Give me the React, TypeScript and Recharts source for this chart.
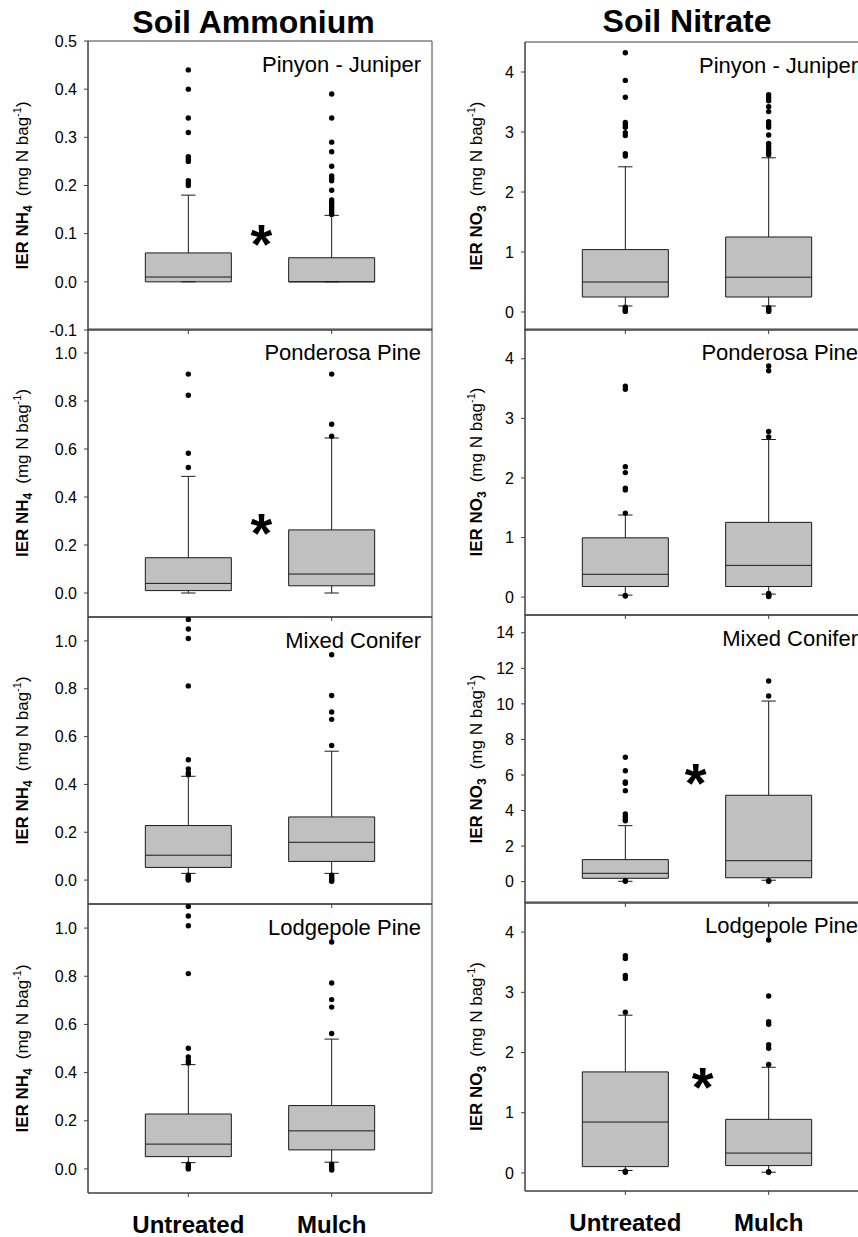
import React from "react";
import { ComposedChart, Scatter, XAxis, YAxis, ReferenceArea, ReferenceLine } from "recharts";

const groups = ["Untreated", "Mulch"];
const sites = ["Pinyon - Juniper", "Ponderosa Pine", "Mixed Conifer", "Lodgepole Pine"];
const titles = ["Soil Ammonium", "Soil Nitrate"];

// y ticks
const nh4TicksPJ = [-0.1, 0, 0.1, 0.2, 0.3, 0.4, 0.5];
const nh4Ticks = [0, 0.2, 0.4, 0.6, 0.8, 1.0];
const no3Ticks = [0, 1, 2, 3, 4];
const no3TicksMC = [0, 2, 4, 6, 8, 10, 12, 14];

// box stats: [lower whisker, Q1, median, Q3, upper whisker]
const nh4PJUntreated = [0, 0, 0.01, 0.06, 0.18];
const nh4PJMulch = [0, 0, 0, 0.05, 0.138];
const nh4PPUntreated = [0, 0.01, 0.04, 0.147, 0.486];
const nh4PPMulch = [0, 0.03, 0.079, 0.263, 0.646];
const nh4MCUntreated = [0.028, 0.053, 0.104, 0.228, 0.434];
const nh4MCMulch = [0.028, 0.078, 0.158, 0.264, 0.539];
const nh4LPUntreated = [0.026, 0.051, 0.103, 0.228, 0.433];
const nh4LPMulch = [0.028, 0.079, 0.158, 0.263, 0.539];

const no3PJUntreated = [0.1, 0.25, 0.5, 1.04, 2.42];
const no3PJMulch = [0.1, 0.25, 0.58, 1.25, 2.57];
const no3PPUntreated = [0.033, 0.178, 0.383, 0.995, 1.378];
const no3PPMulch = [0.05, 0.178, 0.533, 1.255, 2.645];
const no3MCUntreated = [0.02, 0.19, 0.47, 1.24, 3.15];
const no3MCMulch = [0.08, 0.22, 1.18, 4.86, 10.16];
const no3LPUntreated = [0.04, 0.105, 0.845, 1.678, 2.62];
const no3LPMulch = [0.012, 0.122, 0.33, 0.89, 1.755];

// outliers
const nh4PJUntreatedOut = [0.44, 0.4, 0.34, 0.31, 0.26, 0.255, 0.25, 0.21, 0.205, 0.2];
const nh4PJMulchOut = [0.39, 0.34, 0.29, 0.27, 0.24, 0.22, 0.215, 0.21, 0.19, 0.17, 0.165, 0.16, 0.155, 0.15, 0.145, 0.14];
const nh4PPUntreatedOut = [0.912, 0.824, 0.582, 0.523];
const nh4PPMulchOut = [0.912, 0.703, 0.653];
const nh4MCUntreatedOut = [1.09, 1.05, 1.01, 0.812, 0.503, 0.465, 0.449, 0.44, 0.02, 0.015, 0.01, 0.005, 0];
const nh4MCMulchOut = [0.942, 0.772, 0.703, 0.672, 0.5625, 0.02, 0.01, 0.005, 0, -0.005];
const nh4LPUntreatedOut = [1.09, 1.05, 1.01, 0.811, 0.501, 0.465, 0.449, 0.44, 0.02, 0.01, 0.005, 0];
const nh4LPMulchOut = [0.942, 0.772, 0.703, 0.672, 0.5625, 0.02, 0.01, 0, -0.005];

const no3PJUntreatedOut = [4.32, 3.86, 3.58, 3.16, 3.12, 3.08, 2.99, 2.94, 2.64, 2.6, 0.08, 0.05, 0.03, 0.01];
const no3PJMulchOut = [3.62, 3.57, 3.52, 3.42, 3.34, 3.17, 3.12, 3.08, 2.95, 2.81, 2.76, 2.71, 2.66, 2.62, 0.07, 0.05, 0.03, 0.01];
const no3PPUntreatedOut = [3.54, 3.49, 2.19, 2.09, 1.83, 1.8, 1.41, 0.03, 0.02];
const no3PPMulchOut = [3.88, 3.8, 2.78, 2.69, 0.06, 0.04, 0.02, 0.01];
const no3MCUntreatedOut = [7.0, 6.24, 5.61, 5.53, 5.12, 3.81, 3.66, 3.51, 3.43, 0.05, 0.02];
const no3MCMulchOut = [11.29, 10.44, 0.05, 0.02];
const no3LPUntreatedOut = [3.61, 3.56, 3.28, 3.23, 2.67, 0.03, 0.01];
const no3LPMulchOut = [3.87, 2.94, 2.51, 2.47, 2.13, 2.07, 1.8, 0.02, 0.01];

// significance markers [x, y]
const nh4PJStar = [1.51, 0.1];
const nh4PPStar = [1.51, 0.29];
const no3MCStar = [1.49, 6.1];
const no3LPStar = [1.54, 1.6];

const PLOT_W = 344;
const AXIS_W = 88;
const PAD = 10;
const X_DOMAIN: [number, number] = [0.3, 2.7];
const BOX_HALF = 0.3;
const CAP_HALF = 0.05;
const INK = "#1a1a1a";
const FRAME = "#404040";
const FONT = "'Liberation Sans', Arial, Helvetica, sans-serif";

type PanelDef = {
  col: number;
  row: number;
  top: number;
  height: number;
  domain: [number, number];
  ticks: number[];
  stats: number[][];
  outliers: number[][];
  star?: number[];
};

const panels: PanelDef[] = [
  { col: 0, row: 0, top: 41, height: 289, domain: [-0.1, 0.5], ticks: nh4TicksPJ, stats: [nh4PJUntreated, nh4PJMulch], outliers: [nh4PJUntreatedOut, nh4PJMulchOut], star: nh4PJStar },
  { col: 0, row: 1, top: 329, height: 288, domain: [-0.1, 1.1], ticks: nh4Ticks, stats: [nh4PPUntreated, nh4PPMulch], outliers: [nh4PPUntreatedOut, nh4PPMulchOut], star: nh4PPStar },
  { col: 0, row: 2, top: 617, height: 287, domain: [-0.1, 1.1], ticks: nh4Ticks, stats: [nh4MCUntreated, nh4MCMulch], outliers: [nh4MCUntreatedOut, nh4MCMulchOut] },
  { col: 0, row: 3, top: 904, height: 289, domain: [-0.1, 1.1], ticks: nh4Ticks, stats: [nh4LPUntreated, nh4LPMulch], outliers: [nh4LPUntreatedOut, nh4LPMulchOut] },
  { col: 1, row: 0, top: 42, height: 288, domain: [-0.3, 4.5], ticks: no3Ticks, stats: [no3PJUntreated, no3PJMulch], outliers: [no3PJUntreatedOut, no3PJMulchOut] },
  { col: 1, row: 1, top: 329, height: 286, domain: [-0.3, 4.5], ticks: no3Ticks, stats: [no3PPUntreated, no3PPMulch], outliers: [no3PPUntreatedOut, no3PPMulchOut] },
  { col: 1, row: 2, top: 615, height: 288, domain: [-1.2, 15], ticks: no3TicksMC, stats: [no3MCUntreated, no3MCMulch], outliers: [no3MCUntreatedOut, no3MCMulchOut], star: no3MCStar },
  { col: 1, row: 3, top: 902, height: 289, domain: [-0.3, 4.5], ticks: no3Ticks, stats: [no3LPUntreated, no3LPMulch], outliers: [no3LPUntreatedOut, no3LPMulchOut], star: no3LPStar },
];

function YLabel({ vb, ion, sub, off }: any) {
  const x = vb.x + off;
  const y = vb.y + vb.height / 2;
  return (
    <text x={x} y={y} transform={`rotate(-90 ${x} ${y})`} textAnchor="middle" fontSize={17} fill="#000">
      <tspan fontWeight="bold">IER {ion}</tspan>
      <tspan fontWeight="bold" fontSize={12} dy={4}>{sub}</tspan>
      <tspan dy={-4} dx={9}>(mg N bag</tspan>
      <tspan fontSize={11} dy={-7}>-1</tspan>
      <tspan dy={7}>)</tspan>
    </text>
  );
}

const dot = (p: any) => <circle cx={p.cx} cy={p.cy} r={2.7} fill="#000" />;
const starShape = (p: any) => (
  <text x={p.cx} y={p.cy + 29} textAnchor="middle" fontSize={56} fontWeight="bold" fill="#000">*</text>
);

function Panel({ p }: { p: PanelDef }) {
  const isNh4 = p.col === 0;
  const bottom = p.row === 3;
  const xAxisH = bottom ? 50 : 5;
  const left = p.col === 0 ? 0 : 437;
  const site = sites[p.row];

  const boxes: React.ReactNode[] = [];
  p.stats.forEach((s, i) => {
    const c = i + 1;
    const [lo, q1, med, q3, hi] = s;
    boxes.push(
      <ReferenceLine key={`wl${i}`} segment={[{ x: c, y: lo }, { x: c, y: q1 }]} stroke={INK} />,
      <ReferenceLine key={`wh${i}`} segment={[{ x: c, y: q3 }, { x: c, y: hi }]} stroke={INK} />,
      <ReferenceLine key={`cl${i}`} segment={[{ x: c - CAP_HALF, y: lo }, { x: c + CAP_HALF, y: lo }]} stroke={INK} />,
      <ReferenceLine key={`ch${i}`} segment={[{ x: c - CAP_HALF, y: hi }, { x: c + CAP_HALF, y: hi }]} stroke={INK} />,
      <ReferenceArea key={`b${i}`} x1={c - BOX_HALF} x2={c + BOX_HALF} y1={q1} y2={q3} fill="#c0c0c0" fillOpacity={1} stroke={INK} strokeWidth={1} />,
      <ReferenceLine key={`m${i}`} segment={[{ x: c - BOX_HALF, y: med }, { x: c + BOX_HALF, y: med }]} stroke={INK} />
    );
  });

  return (
    <div style={{ position: "absolute", left, top: p.top - PAD }}>
      <ComposedChart
        width={AXIS_W + PLOT_W + 2}
        height={p.height + PAD + xAxisH + PAD}
        margin={{ top: PAD, right: 2, bottom: PAD, left: 0 }}
      >
        <XAxis
          type="number"
          dataKey="x"
          domain={X_DOMAIN}
          ticks={[1, 2]}
          interval={0}
          allowDataOverflow
          height={xAxisH}
          tickSize={4}
          tickMargin={19}
          axisLine={{ stroke: FRAME }}
          tickLine={{ stroke: FRAME }}
          tick={{ fontSize: 24, fontWeight: "bold", fill: "#000" }}
          tickFormatter={(v: number) => (bottom ? groups[v - 1] : "")}
        />
        <YAxis
          type="number"
          dataKey="y"
          domain={p.domain}
          ticks={p.ticks}
          interval={0}
          allowDataOverflow
          width={AXIS_W}
          tickSize={4}
          tickMargin={7}
          axisLine={{ stroke: FRAME }}
          tickLine={{ stroke: FRAME }}
          tick={{ fontSize: 16, fill: "#000" }}
          tickFormatter={(v: number) => (isNh4 ? v.toFixed(1) : String(v))}
          label={(props: any) => (
            <YLabel vb={props.viewBox} ion={isNh4 ? "NH" : "NO"} sub={isNh4 ? "4" : "3"} off={isNh4 ? 28 : 45} />
          )}
        />
        <ReferenceArea
          x1={X_DOMAIN[0]}
          x2={X_DOMAIN[1]}
          y1={p.domain[0]}
          y2={p.domain[1]}
          fill="none"
          stroke={FRAME}
          label={(props: any) => {
            const vb = props.viewBox;
            return (
              <text x={vb.x + vb.width - 11} y={vb.y + 31} textAnchor="end" fontSize={22} fill="#000">
                {site}
              </text>
            );
          }}
        />
        {boxes}
        {p.outliers.map((o, i) => (
          <Scatter
            key={`o${i}`}
            data={o.map((y) => ({ x: i + 1, y }))}
            shape={dot}
            isAnimationActive={false}
          />
        ))}
        {p.star && (
          <Scatter data={[{ x: p.star[0], y: p.star[1] }]} shape={starShape} isAnimationActive={false} />
        )}
      </ComposedChart>
    </div>
  );
}

export default function App() {
  return (
    <div
      style={{
        position: "absolute",
        left: 0,
        top: 0,
        width: 858,
        height: 1237,
        overflow: "hidden",
        background: "#fff",
        fontFamily: FONT,
      }}
    >
      <svg width={858} height={60} style={{ position: "absolute", left: 0, top: 0 }}>
        <text x={253.5} y={33} textAnchor="middle" fontSize={32} fontWeight="bold" fill="#000">
          {titles[0]}
        </text>
        <text x={687} y={32} textAnchor="middle" fontSize={32} fontWeight="bold" fill="#000">
          {titles[1]}
        </text>
      </svg>
      {panels.map((p, i) => (
        <Panel key={i} p={p} />
      ))}
    </div>
  );
}
